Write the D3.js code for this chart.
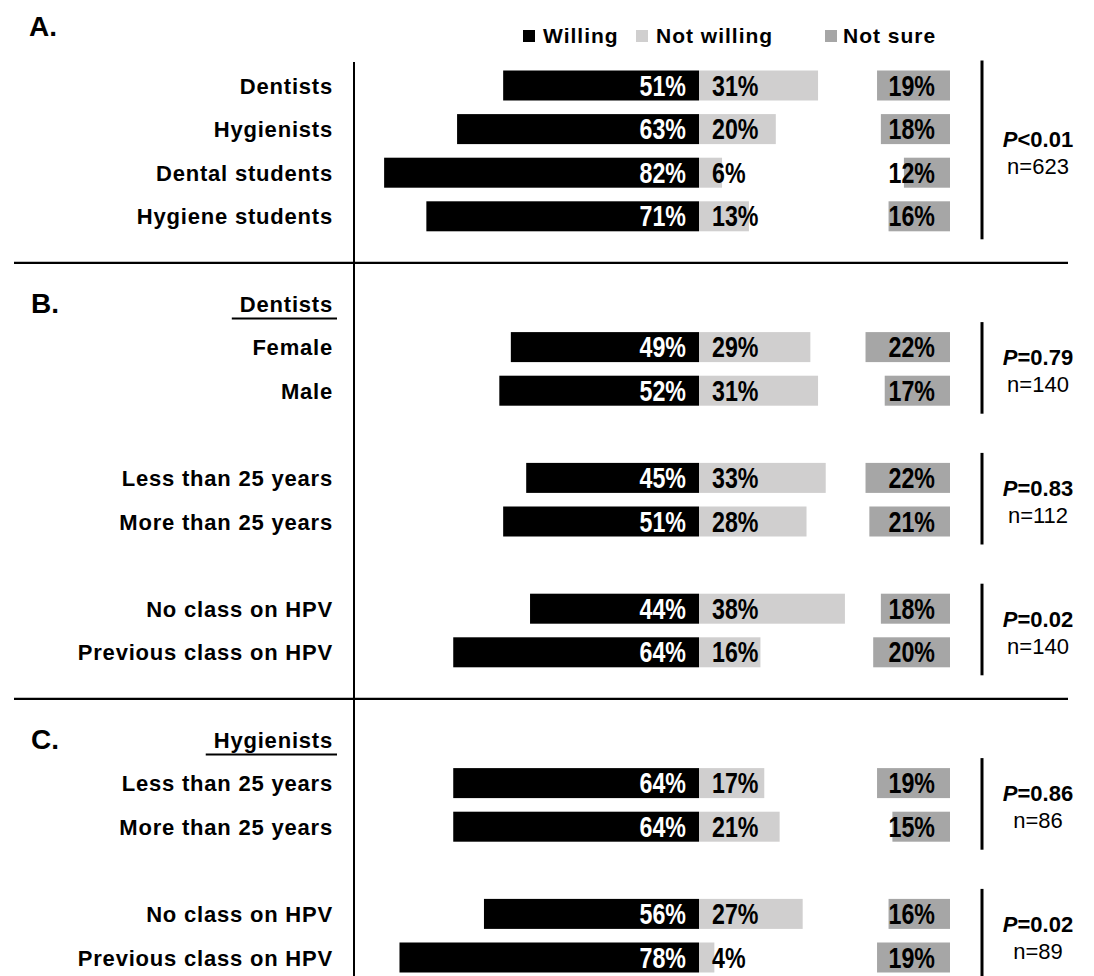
<!DOCTYPE html>
<html>
<head>
<meta charset="utf-8">
<script src="https://d3js.org/d3.v7.min.js"></script>
<style>
    body { margin: 0; background: #ffffff; }
    text { font-family: "Liberation Sans", Arial, sans-serif; fill: #000; }
    .rowLabel { font-size: 22px; font-weight: bold; letter-spacing: 0.8px; }
    .section { font-size: 28px; font-weight: bold; }
    .legendText { font-size: 21px; font-weight: bold; letter-spacing: 1px; }
    .pct { font-size: 29px; font-weight: bold; }
    .pval { font-size: 22px; font-weight: bold; }
    .nval { font-size: 22px; }
</style>
</head>
<body>
<script>
/**
* Willingness chart: willing bars go left from the centre, not willing bars
* go right, not sure bars are pinned to the right edge.
*/

// row ids and the labels shown in front of them
var rowIds = ["a1", "a2", "a3", "a4", "b1", "b2", "b3", "b4", "b5", "b6",
              "c1", "c2", "c3", "c4"];
var rowLabels = ["Dentists", "Hygienists", "Dental students", "Hygiene students",
                 "Female", "Male", "Less than 25 years", "More than 25 years",
                 "No class on HPV", "Previous class on HPV",
                 "Less than 25 years", "More than 25 years",
                 "No class on HPV", "Previous class on HPV"];

// percentages per row
var willing    = [51, 63, 82, 71, 49, 52, 45, 51, 44, 64, 64, 64, 56, 78];
var notWilling = [31, 20, 6, 13, 29, 31, 33, 28, 38, 16, 17, 21, 27, 4];
var notSure    = [19, 18, 12, 16, 22, 17, 22, 21, 18, 20, 19, 15, 16, 19];

// order of the rows from top to bottom, gaps and sub headers included
var slotOrder = ["a1", "a2", "a3", "a4", "gap1", "bHead", "b1", "b2", "gap2",
                 "b3", "b4", "gap3", "b5", "b6", "gap4", "cHead", "c1", "c2",
                 "gap5", "c3", "c4"];

// panel letters and sub headers
var sectionLabels = ["A.", "B.", "C."];
var headerIds = ["bHead", "cHead"];
var headerLabels = ["Dentists", "Hygienists"];
var dividerIds = ["gap1", "gap4"];

// statistical tests, each spanning a first and last row
var testFirst = ["a1", "b1", "b3", "b5", "c1", "c3"];
var testLast  = ["a4", "b2", "b4", "b6", "c2", "c4"];
var testP = ["<0.01", "=0.79", "=0.83", "=0.02", "=0.86", "=0.02"];
var testN = ["n=623", "n=140", "n=112", "n=140", "n=86", "n=89"];

var legendLabels = ["Willing", "Not willing", "Not sure"];
var colors = ["#000000", "#d0cfcf", "#a6a6a6"];

// svg size and fixed anchors
var fullWidth = 1094;
var fullHeight = 976;
var centerX = 699;
var sureRight = 950;
var barHeight = 30;

// narrow look of the percentage numbers
var squeeze = 0.8;

var svg = d3.select("body")
            .append("svg")
            .attr("width", fullWidth)
            .attr("height", fullHeight);

// vertical position of every slot
var yScale = d3.scalePoint()
               .domain(slotOrder)
               .range([85.5, 957.5]);

// length of a bar for a percentage
var lenScale = d3.scaleLinear()
                 .domain([0, 100])
                 .range([0, 384]);

var rows = rowIds.map(function(id, i) {
    return {id: id, label: rowLabels[i], w: willing[i],
            nw: notWilling[i], ns: notSure[i]};
});

// vertical axis line and the two dividers
svg.append("line")
   .attr("x1", 354).attr("x2", 354)
   .attr("y1", 62).attr("y2", fullHeight)
   .style("stroke", "#000").style("stroke-width", 2);

svg.selectAll(".divider")
   .data(dividerIds)
   .enter()
   .append("line")
   .attr("class", "divider")
   .attr("x1", 14).attr("x2", 1068)
   .attr("y1", function(d) { return yScale(d) + 3; })
   .attr("y2", function(d) { return yScale(d) + 3; })
   .style("stroke", "#000").style("stroke-width", 2.2);

// legend
var legendX = [523, 636, 825];
var legend = svg.selectAll(".legend")
                .data(legendLabels)
                .enter()
                .append("g")
                .attr("class", "legend")
                .attr("transform", function(d, i) {
                    return "translate(" + legendX[i] + ",0)";
                });

legend.append("rect")
      .attr("y", 30)
      .attr("width", 12)
      .attr("height", 12)
      .style("fill", function(d, i) { return colors[i]; });

legend.append("text")
      .attr("class", "legendText")
      .attr("x", function(d, i) { return i == 2 ? 18 : 20; })
      .attr("y", 43)
      .text(function(d) { return d; });

// panel letters
svg.selectAll(".section")
   .data(sectionLabels)
   .enter()
   .append("text")
   .attr("class", "section")
   .attr("x", function(d, i) { return i == 0 ? 29 : 31; })
   .attr("y", function(d, i) {
       return i == 0 ? yScale("a1") - 50 : yScale(headerIds[i - 1]) + 9.5;
   })
   .text(function(d) { return d; });

// underlined sub headers
var heads = svg.selectAll(".head")
               .data(headerIds)
               .enter()
               .append("g")
               .attr("class", "head");

heads.append("text")
     .attr("class", "rowLabel")
     .attr("x", 333)
     .attr("y", function(d) { return yScale(d) + 8; })
     .style("text-anchor", "end")
     .text(function(d, i) { return headerLabels[i]; });

heads.append("line")
     .attr("x1", function(d, i) {
         return 333 - this.parentNode.querySelector("text").getComputedTextLength() - 8;
     })
     .attr("x2", 337)
     .attr("y1", function(d) { return yScale(d) + 15; })
     .attr("y2", function(d) { return yScale(d) + 15; })
     .style("stroke", "#000").style("stroke-width", 2);

// row labels
svg.selectAll(".rowLabel.row")
   .data(rows)
   .enter()
   .append("text")
   .attr("class", "rowLabel row")
   .attr("x", 333)
   .attr("y", function(d) { return yScale(d.id) + 8; })
   .style("text-anchor", "end")
   .text(function(d) { return d.label; });

// bars
var bar = svg.selectAll(".bar")
             .data(rows)
             .enter()
             .append("g")
             .attr("class", "bar")
             .attr("transform", function(d) {
                 return "translate(0," + (yScale(d.id) - barHeight / 2) + ")";
             });

bar.append("rect")
   .attr("x", function(d) { return centerX - lenScale(d.w); })
   .attr("width", function(d) { return lenScale(d.w); })
   .attr("height", barHeight)
   .style("fill", colors[0]);

bar.append("rect")
   .attr("x", centerX)
   .attr("width", function(d) { return lenScale(d.nw); })
   .attr("height", barHeight)
   .style("fill", colors[1]);

bar.append("rect")
   .attr("x", function(d) { return sureRight - lenScale(d.ns); })
   .attr("width", function(d) { return lenScale(d.ns); })
   .attr("height", barHeight)
   .style("fill", colors[2]);

// percentage labels, squeezed sideways around their anchor point
function pctLabel(x, anchor, color, value) {
    bar.append("g")
       .attr("transform", "translate(" + x + "," + (barHeight / 2 + 10) + ")")
       .append("text")
       .attr("class", "pct")
       .attr("transform", "scale(" + squeeze + ",1)")
       .style("text-anchor", anchor)
       .style("fill", color)
       .text(function(d) { return d[value] + "%"; });
}

pctLabel(centerX - 13, "end", "#fff", "w");
pctLabel(centerX + 13, "start", "#000", "nw");
pctLabel(sureRight - 15, "end", "#000", "ns");

// test results with bracket line
var tests = svg.selectAll(".test")
               .data(testP)
               .enter()
               .append("g")
               .attr("class", "test");

tests.append("line")
     .attr("x1", 982).attr("x2", 982)
     .attr("y1", function(d, i) { return yScale(testFirst[i]) - 25; })
     .attr("y2", function(d, i) { return yScale(testLast[i]) + 23; })
     .style("stroke", "#000").style("stroke-width", 3);

var pText = tests.append("text")
                 .attr("class", "pval")
                 .attr("x", 1038)
                 .attr("y", function(d, i) {
                     return (yScale(testFirst[i]) + yScale(testLast[i])) / 2 - 4;
                 })
                 .style("text-anchor", "middle");

pText.append("tspan")
     .style("font-style", "italic")
     .text("P");

pText.append("tspan")
     .text(function(d) { return d; });

tests.append("text")
     .attr("class", "nval")
     .attr("x", 1038)
     .attr("y", function(d, i) {
         return (yScale(testFirst[i]) + yScale(testLast[i])) / 2 + 23;
     })
     .style("text-anchor", "middle")
     .text(function(d, i) { return testN[i]; });
</script>
</body>
</html>
